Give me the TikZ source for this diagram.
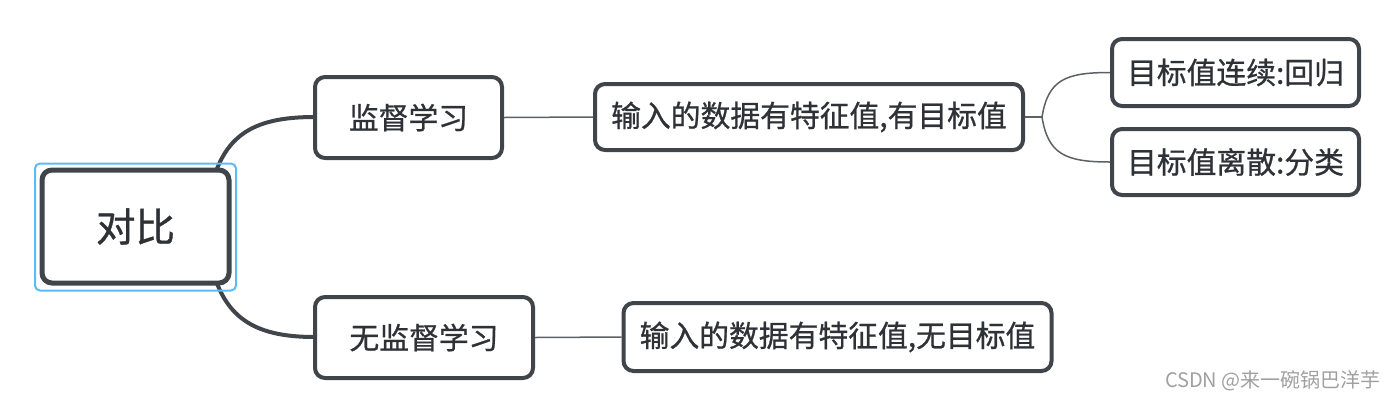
\documentclass[tikz,border=0pt]{standalone}
\usepackage{fontspec}
\setmainfont{Noto Sans CJK SC}
\newfontfamily\cjk[FakeBold=0.8]{Noto Sans CJK SC}
\newfontfamily\cjkwm{Noto Sans CJK SC}
\definecolor{edge}{HTML}{40454B}
\definecolor{txt}{HTML}{2E3236}
\definecolor{sel}{HTML}{5DBAF2}
\definecolor{wm}{HTML}{A0A0A0}
\begin{document}
\begin{tikzpicture}[x=1pt,y=-1pt,
  box/.style={draw=edge,line width=4pt,rounded corners=10pt,fill=white,text=txt,inner sep=0pt,font=\cjk\fontsize{29.8}{32}\selectfont},
  rootbox/.style={box,line width=5pt,font=\cjk\fontsize{39.5}{42}\selectfont},
  thick conn/.style={draw=edge,line width=4pt},
  thin conn/.style={draw=edge!85,line width=1.5pt}]
\useasboundingbox (0,0) rectangle (1394,400);
% coordinates
\coordinate (rjt) at (208,205);
\coordinate (rjb) at (208,247);
\coordinate (cj) at (1042,117);
% connectors
\draw[thick conn] (rjt) .. controls (218,135) and (252,117) .. (315,117);
\draw[thick conn] (rjb) .. controls (218,317) and (252,337) .. (315,337);
% nodes
\node[draw=sel,line width=2pt,rounded corners=5pt,minimum width=201pt,minimum height=127pt] (sel) at (135.5,227) {};
\node[rootbox,minimum width=187pt,minimum height=113pt] (root) at (135.5,226.5) {对比};
\node[box,minimum width=187pt,minimum height=81pt] (sup) at (408.5,117.5) {监督学习};
\node[box,minimum width=218pt,minimum height=81pt] (uns) at (424,337.5) {无监督学习};
\node[box,minimum width=428pt,minimum height=66pt] (in1) at (809,117) {输入的数据有特征值,有目标值};
\node[box,minimum width=428pt,minimum height=68pt] (in2) at (837.5,337) {输入的数据有特征值,无目标值};
\node[box,minimum width=247pt,minimum height=67pt] (c1) at (1235.5,72.5) {目标值连续:回归};
\node[box,minimum width=247pt,minimum height=66pt] (c2) at (1235.5,162) {目标值离散:分类};
% thin connectors
\draw[thin conn] (sup.east) -- (in1.west);
\draw[thin conn] (uns.east) -- (in2.west);
\draw[thin conn] (in1.east) -- (cj);
\draw[thin conn] (cj) .. controls (1048,80) and (1065,72.5) .. (c1.west);
\draw[thin conn] (cj) .. controls (1048,154) and (1065,162) .. (c2.west);
% watermark
\node[text=wm,font=\cjkwm\fontsize{20}{22}\selectfont,anchor=east,inner sep=0pt] (wmk) at (1381,381) {CSDN @来一碗锅巴洋芋};
\end{tikzpicture}
\end{document}
